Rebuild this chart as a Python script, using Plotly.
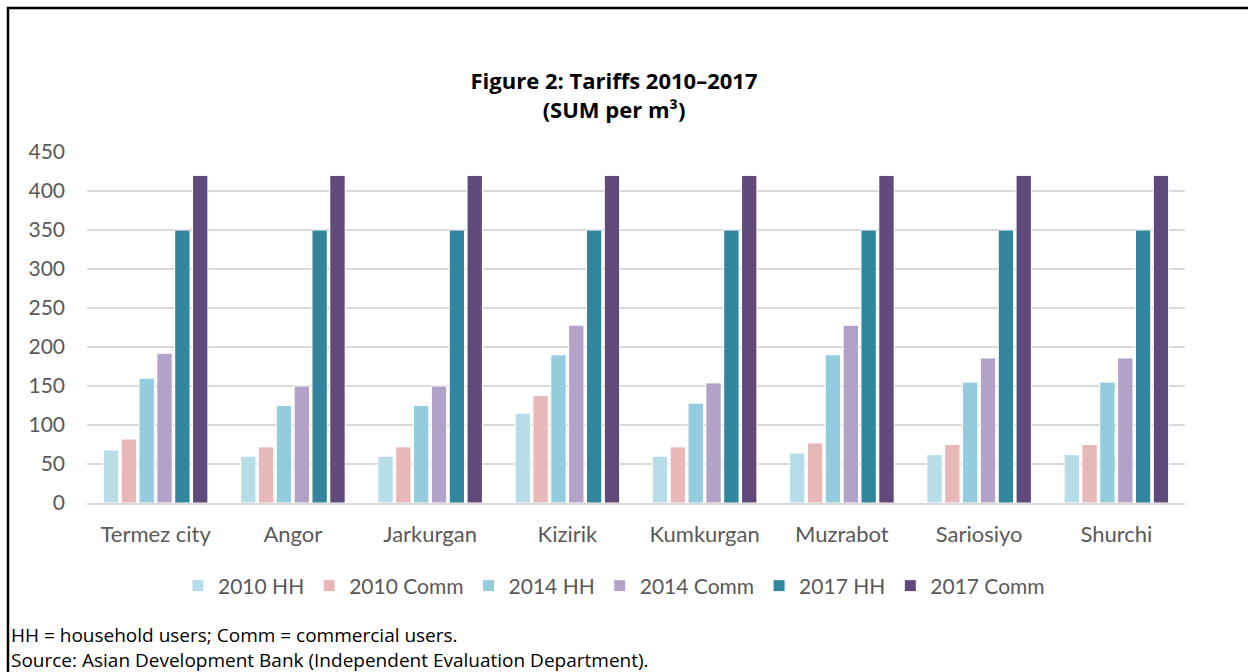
import plotly.graph_objects as go

categories = ["Termez city", "Angor", "Jarkurgan", "Kizirik", "Kumkurgan", "Muzrabot", "Sariosiyo", "Shurchi"]
hh_2010 = [68, 60, 60, 115, 60, 64, 62, 62]
comm_2010 = [82, 72, 72, 138, 72, 77, 75, 75]
hh_2014 = [160, 125, 125, 190, 128, 190, 155, 155]
comm_2014 = [192, 150, 150, 228, 154, 228, 186, 186]
hh_2017 = [350, 350, 350, 350, 350, 350, 350, 350]
comm_2017 = [420, 420, 420, 420, 420, 420, 420, 420]

series = [
    ("2010 HH", hh_2010, "#b7dde8"),
    ("2010 Comm", comm_2010, "#e6b9b8"),
    ("2014 HH", hh_2014, "#93cddd"),
    ("2014 Comm", comm_2014, "#b3a2c7"),
    ("2017 HH", hh_2017, "#31859c"),
    ("2017 Comm", comm_2017, "#604a7b"),
]

W, H = 1248, 672
L, R, T, B = 87, 63, 152, 169
pw, ph = W - L - R, H - T - B

def px(x):
    return (x - L) / pw

def py(y):
    return (H - B - y) / ph

fig = go.Figure()
for name, vals, col in series:
    fig.add_trace(go.Bar(
        name=name, x=categories, y=vals,
        marker=dict(color=col, line=dict(color="white", width=1)),
    ))

fig.update_layout(
    width=W, height=H,
    margin=dict(l=L, r=R, t=T, b=B, autoexpand=False),
    paper_bgcolor="white", plot_bgcolor="white",
    barmode="group", bargap=0.22, bargroupgap=0.14,
    font=dict(family="Lato", size=21, color="#595959"),
    title=dict(
        text="Figure 2: Tariffs 2010–2017<br>(SUM per m³)",
        x=614 / W, xanchor="center", xref="container",
        y=1 - 89 / H, yanchor="middle", yref="container",
        font=dict(family="Open Sans", size=22, color="black", weight="bold"),
    ),
    xaxis=dict(
        showgrid=False, showline=True, linecolor="#d9d9d9", linewidth=2,
        ticks="", tickfont=dict(size=22, color="#595959"), tickangle=0,
        automargin=False, ticklabelstandoff=11,
    ),
    yaxis=dict(
        range=[0, 450], dtick=50, showgrid=True, gridcolor="#d9d9d9", gridwidth=1.5,
        zeroline=False, showline=False, ticks="", ticklabelstandoff=21,
        tickfont=dict(size=21, color="#595959"), automargin=False,
    ),
    legend=dict(
        orientation="h", xref="container", x=614 / W, xanchor="center",
        yref="container", y=1 - 586 / H, yanchor="middle",
        font=dict(size=21, color="#595959"),
        traceorder="normal",
    ),
    showlegend=True,
)

fig.add_annotation(
    text="HH = household users; Comm = commercial users.<br>"
         "Source: Asian Development Bank (Independent Evaluation Department).",
    xref="paper", yref="paper", x=px(10), y=py(647), xanchor="left", yanchor="middle",
    align="left", showarrow=False, borderpad=0,
    font=dict(family="Open Sans", size=19, color="black"),
)

fig.add_shape(type="line", xref="paper", yref="paper",
              x0=px(7), x1=px(W + 5), y0=py(8), y1=py(8),
              line=dict(color="black", width=2.5))
fig.add_shape(type="line", xref="paper", yref="paper",
              x0=px(8), x1=px(8), y0=py(7), y1=py(H + 5),
              line=dict(color="black", width=2.5))

fig.write_html("out.html")
